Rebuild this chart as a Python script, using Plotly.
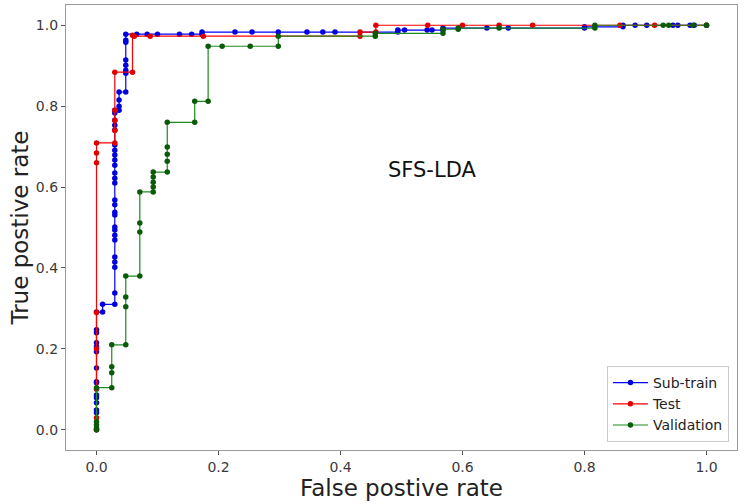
import plotly.graph_objects as go

# ---- data ----
sub_train_fpr = [0, 0, 0, 0, 0, 0, 0, 0, 0, 0, 0, 0, 0, 0, 0,
                 0.01, 0.01, 0.03,
                 0.03, 0.03, 0.03, 0.03, 0.03, 0.03, 0.03, 0.03, 0.03, 0.03, 0.03, 0.03, 0.03,
                 0.03, 0.03, 0.03, 0.03, 0.03, 0.03, 0.03, 0.03, 0.03, 0.03, 0.03, 0.03,
                 0.037, 0.037, 0.037, 0.037, 0.048,
                 0.048, 0.048, 0.048, 0.048, 0.048, 0.048, 0.048,
                 0.066, 0.083, 0.1, 0.136, 0.156, 0.173, 0.173, 0.227, 0.255, 0.298, 0.345,
                 0.371, 0.391, 0.494, 0.494, 0.505, 0.542, 0.55, 0.568, 0.568, 0.64, 0.675,
                 0.80, 0.80, 0.863, 0.863, 0.883, 0.902, 0.945, 0.953, 0.973, 0.98, 1.0]
sub_train_tpr = [0, 0.042, 0.049, 0.067, 0.079, 0.086, 0.116, 0.119, 0.153, 0.193, 0.205, 0.215, 0.24, 0.247, 0.291,
                 0.291, 0.31, 0.31,
                 0.338, 0.402, 0.415, 0.427, 0.469, 0.481, 0.494, 0.501, 0.531, 0.538, 0.556, 0.568, 0.61,
                 0.622, 0.635, 0.654, 0.667, 0.679, 0.691, 0.704, 0.741, 0.753, 0.765, 0.783, 0.79,
                 0.79, 0.80, 0.815, 0.835, 0.835,
                 0.881, 0.889, 0.901, 0.914, 0.958, 0.963, 0.978,
                 0.978, 0.978, 0.978, 0.978, 0.978, 0.978, 0.983, 0.983, 0.983, 0.983, 0.983,
                 0.983, 0.983, 0.983, 0.988, 0.988, 0.988, 0.988, 0.988, 0.993, 0.993, 0.993,
                 0.993, 0.996, 0.996, 1.0, 1.0, 1.0, 1.0, 1.0, 1.0, 1.0, 1.0]

test_fpr = [0, 0, 0, 0, 0, 0, 0, 0,
            0.03, 0.03, 0.03, 0.03, 0.03, 0.059, 0.059, 0.062, 0.088, 0.175,
            0.432, 0.432, 0.458, 0.458, 0.543, 0.6, 0.66, 0.715, 0.858, 0.915, 1.0]
test_tpr = [0, 0.03, 0.1, 0.2, 0.29, 0.66, 0.684, 0.709,
            0.709, 0.74, 0.765, 0.79, 0.884, 0.884, 0.975, 0.973, 0.973, 0.973,
            0.973, 0.983, 0.983, 1.0, 1.0, 1.0, 1.0, 1.0, 1.0, 1.0, 1.0]

validation_fpr = [0, 0, 0, 0, 0, 0.025, 0.025, 0.025, 0.025, 0.048, 0.048, 0.048, 0.048,
                  0.071, 0.071, 0.071, 0.071, 0.093, 0.093, 0.093, 0.093, 0.093,
                  0.116, 0.116, 0.116, 0.116, 0.116, 0.161, 0.161, 0.183, 0.183,
                  0.206, 0.252, 0.298, 0.298, 0.457, 0.457, 0.568, 0.568, 0.593, 0.593,
                  0.66, 0.817, 0.817, 0.929, 0.938, 0.978, 1.0]
validation_tpr = [0, 0.005, 0.012, 0.02, 0.104, 0.104, 0.141, 0.156, 0.21, 0.21, 0.304, 0.328, 0.38,
                  0.38, 0.489, 0.511, 0.588, 0.588, 0.6, 0.612, 0.625, 0.637,
                  0.637, 0.664, 0.681, 0.699, 0.76, 0.76, 0.812, 0.812, 0.948,
                  0.948, 0.948, 0.948, 0.973, 0.973, 0.98, 0.98, 0.99, 0.99, 0.993,
                  0.993, 0.993, 1.0, 1.0, 1.0, 1.0, 1.0]

tick_vals = [0.0, 0.2, 0.4, 0.6, 0.8, 1.0]
tick_text = ["0.0", "0.2", "0.4", "0.6", "0.8", "1.0"]

series = [
    ("Sub-train", sub_train_fpr, sub_train_tpr, "#0000ff", "#0000dd"),
    ("Test", test_fpr, test_tpr, "#ff0000", "#e00000"),
    ("Validation", validation_fpr, validation_tpr, "#1f8a1f", "#0a5a0a"),
]

fig = go.Figure()
for name, xs, ys, lc, mc in series:
    fig.add_trace(go.Scatter(
        x=xs, y=ys, name=name, mode="lines+markers",
        line=dict(color=lc, width=1.2),
        marker=dict(color=mc, size=5.5),
    ))

font_family = "DejaVu Sans"
axis_common = dict(
    showgrid=False, zeroline=False, automargin=False,
    showline=True, mirror=True, linecolor="#9a9a9a", linewidth=1.3,
    ticks="outside", ticklen=4, tickcolor="#555", tickwidth=1,
    tickvals=tick_vals, ticktext=tick_text,
    tickfont=dict(family=font_family, size=14, color="#3a3a3a"),
)

fig.update_layout(
    width=749, height=504,
    margin=dict(l=66, r=12, t=5, b=54),
    paper_bgcolor="white", plot_bgcolor="white",
    font=dict(family=font_family, color="#222"),
    xaxis=dict(range=[-0.05, 1.05],
               title=dict(text="False postive rate", font=dict(size=23, color="#222"), standoff=0),
               **axis_common),
    yaxis=dict(range=[-0.05, 1.05],
               title=dict(text="True postive rate", font=dict(size=23, color="#222"), standoff=0),
               **axis_common),
    legend=dict(x=0.988, y=0.018, xanchor="right", yanchor="bottom",
                bgcolor="white", bordercolor="#cccccc", borderwidth=1,
                font=dict(family=font_family, size=14, color="#222"),
                itemwidth=35),
    annotations=[dict(x=0.55, y=0.642, xref="x", yref="y", text="SFS-LDA",
                      showarrow=False, font=dict(family=font_family, size=21, color="#111"))],
)

fig.write_html("out.html", config={"displayModeBar": False},
               post_script="document.body.style.margin='0';")
